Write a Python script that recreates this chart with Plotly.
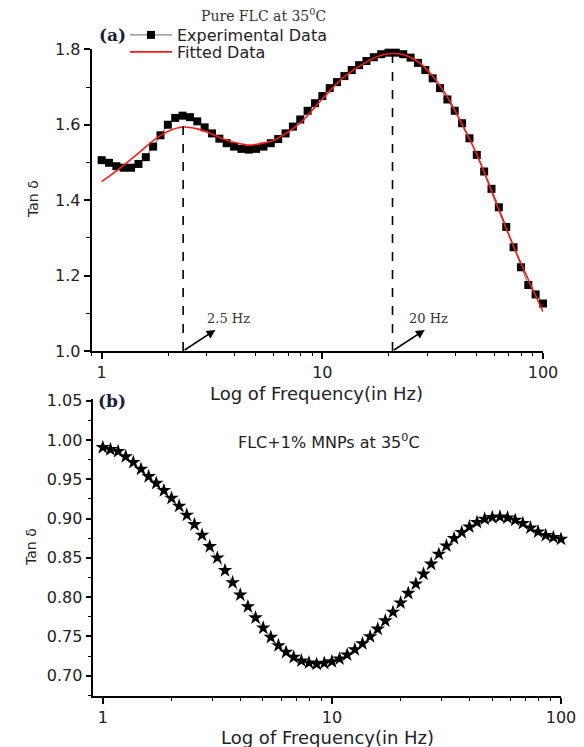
import math
import plotly.graph_objects as go

# ---------------- data ----------------
freq_hz = [1.000, 1.080, 1.166, 1.259, 1.359, 1.468, 1.585, 1.711, 1.848, 1.995,
           2.154, 2.326, 2.512, 2.712, 2.929, 3.162, 3.415, 3.687, 3.981, 4.299,
           4.642, 5.012, 5.412, 5.843, 6.310, 6.813, 7.356, 7.943, 8.577, 9.261,
           10.00, 10.80, 11.66, 12.59, 13.59, 14.68, 15.85, 17.11, 18.48, 19.95,
           21.54, 23.26, 25.12, 27.12, 29.29, 31.62, 34.15, 36.87, 39.81, 42.99,
           46.42, 50.12, 54.12, 58.43, 63.10, 68.13, 73.56, 79.43, 85.77, 92.61,
           100.0]

tan_pure = [1.506, 1.499, 1.490, 1.486, 1.486, 1.496, 1.514, 1.542, 1.572, 1.600,
            1.618, 1.624, 1.620, 1.609, 1.593, 1.577, 1.563, 1.551, 1.542, 1.536,
            1.534, 1.536, 1.542, 1.551, 1.562, 1.577, 1.595, 1.614, 1.637, 1.657,
            1.676, 1.697, 1.713, 1.729, 1.745, 1.758, 1.769, 1.779, 1.787, 1.791,
            1.791, 1.787, 1.778, 1.764, 1.745, 1.723, 1.697, 1.667, 1.637, 1.604,
            1.564, 1.520, 1.476, 1.430, 1.381, 1.329, 1.275, 1.222, 1.175, 1.150,
            1.126]

fit_freq = [1.0, 1.25, 1.465, 1.713, 1.99, 2.33, 2.71, 3.16, 3.68, 4.29, 4.65, 5.04,
            5.86, 6.42, 7.91, 9.95, 12.5, 15.8, 18.5, 20.9, 23.2, 27.2, 31.6, 36.9,
            43.1, 49.9, 62.3, 73.1, 100.0]
fit_tan = [1.449, 1.491, 1.524, 1.558, 1.582, 1.594, 1.589, 1.575, 1.559, 1.549, 1.546,
           1.548, 1.556, 1.567, 1.604, 1.667, 1.726, 1.766, 1.784, 1.789, 1.786, 1.767,
           1.729, 1.673, 1.599, 1.524, 1.382, 1.281, 1.104]

tan_mnp = [0.9906, 0.9880, 0.9855, 0.9790, 0.9715, 0.9630, 0.9536, 0.9450, 0.9358, 0.9260,
           0.9160, 0.9045, 0.8925, 0.8790, 0.8645, 0.8500, 0.8340, 0.8186, 0.8030, 0.7880,
           0.7738, 0.7608, 0.7490, 0.7384, 0.7300, 0.7236, 0.7190, 0.7165, 0.7148, 0.7160,
           0.7181, 0.7215, 0.7266, 0.7333, 0.7409, 0.7498, 0.7595, 0.7700, 0.7810, 0.7928,
           0.8050, 0.8169, 0.8295, 0.8422, 0.8548, 0.8654, 0.8748, 0.8824, 0.8896, 0.8952,
           0.8994, 0.9015, 0.9023, 0.9010, 0.8981, 0.8939, 0.8883, 0.8832, 0.8786, 0.8761,
           0.8739]

peak_freqs = [2.34, 20.8]
peak_tops = [1.624, 1.790]
peak_labels = ["2.5 Hz", "20 Hz"]

x_ticks = [1, 10, 100]
x_ticktext = ["1", "10", "100"]

# ---------------- figure ----------------
W, H = 584, 747
SANS = "DejaVu Sans"
SERIF = "DejaVu Serif"
TXT = "#222222"

def px(x):
    return x / W

def py(y):
    return 1 - y / H

fig = go.Figure()

# panel (a)
fig.add_trace(go.Scatter(
    x=freq_hz, y=tan_pure, mode="lines+markers", name="Experimental Data",
    line=dict(color="#666666", width=1),
    marker=dict(symbol="square", size=8, color="black"),
    xaxis="x", yaxis="y", cliponaxis=False, legend="legend"))
fig.add_trace(go.Scatter(
    x=fit_freq, y=fit_tan, mode="lines", name="Fitted Data",
    line=dict(color="#ff1a1a", width=1.6, shape="spline"),
    xaxis="x", yaxis="y", legend="legend2"))
for f, top in zip(peak_freqs, peak_tops):
    fig.add_trace(go.Scatter(
        x=[f, f], y=[1.0, top], mode="lines", showlegend=False,
        line=dict(color="black", width=1.6, dash="dash"),
        xaxis="x", yaxis="y"))

# panel (b)
fig.add_trace(go.Scatter(
    x=freq_hz, y=tan_mnp, mode="lines+markers", showlegend=False,
    line=dict(color="#777777", width=1, dash="dot"),
    marker=dict(symbol="star", size=11, color="black"),
    xaxis="x2", yaxis="y2", cliponaxis=False))

axis_common = dict(showline=True, linecolor="black", linewidth=1.5,
                   ticks="outside", ticklen=6, tickwidth=1.5, tickcolor="black",
                   showgrid=False, zeroline=False,
                   tickfont=dict(family=SANS, size=16, color=TXT))
minor_common = dict(ticks="outside", ticklen=3.5, tickwidth=1.2, tickcolor="black")

legend_common = dict(xanchor="left", yanchor="middle", bgcolor="rgba(0,0,0,0)",
                     itemwidth=42, font=dict(family=SANS, size=16, color=TXT),
                     borderwidth=0)

fig.update_layout(
    width=W, height=H,
    margin=dict(l=0, r=0, t=0, b=0, autoexpand=False),
    paper_bgcolor="white", plot_bgcolor="white",
    showlegend=True,
    legend=dict(x=px(125), y=py(35), **legend_common),
    legend2=dict(x=px(125), y=py(52), **legend_common),
    xaxis=dict(type="log", range=[-0.046, 2.0], domain=[px(91.5), px(543)],
               anchor="y", tickvals=x_ticks, ticktext=x_ticktext,
               minor=dict(dtick="D1", **minor_common), **axis_common),
    yaxis=dict(range=[1.0, 1.8], domain=[py(351), py(49.3)], anchor="x",
               tick0=1.0, dtick=0.2, tickformat=".1f",
               minor=dict(dtick=0.1, **minor_common), **axis_common),
    xaxis2=dict(type="log", range=[-0.0415, 2.0], domain=[px(93.3), px(561)],
                anchor="y2", tickvals=x_ticks, ticktext=x_ticktext,
                minor=dict(dtick="D1", **minor_common), **axis_common),
    yaxis2=dict(range=[0.6742, 1.0522], domain=[py(696), py(399)], anchor="x2",
                tick0=0.70, dtick=0.05, tickformat=".2f",
                minor=dict(dtick=0.025, **minor_common), **axis_common),
)

ann = []
def text(x, y, s, size, family=SANS, color=TXT, angle=0):
    ann.append(dict(x=px(x), y=py(y), xref="paper", yref="paper", text=s,
                    showarrow=False, xanchor="center", yanchor="middle",
                    textangle=angle, font=dict(family=family, size=size, color=color)))

text(263, 15, "Pure FLC at 35<sup>0</sup>C", 14, SERIF, "#333333")
text(112, 35, "<b>(a)</b>", 17, SERIF, "#1c1c3c")
text(316, 393, "Log of Frequency(in Hz)", 18)
text(33, 199, "Tan δ", 14, angle=-90)
text(112, 401, "<b>(b)</b>", 17, SERIF, "#1c1c3c")
text(329, 441, "FLC+1% MNPs at 35<sup>0</sup>C", 16)
text(327, 737, "Log of Frequency(in Hz)", 18)
text(31, 547, "Tan δ", 14, angle=-90)

label_px = [228, 428]
for f, lab, lx in zip(peak_freqs, peak_labels, label_px):
    # arrow from the foot of the dashed line up-right
    ann.append(dict(x=math.log10(f * 1.40), y=1.056, xref="x", yref="y",
                    ax=math.log10(f), ay=1.0, axref="x", ayref="y",
                    text="", showarrow=True, arrowhead=2, arrowsize=1.1,
                    arrowwidth=1.6, arrowcolor="black"))
    text(lx, 318, lab, 13, SERIF, "#333333")

fig.update_layout(annotations=ann)

fig.write_html("out.html", config={"displayModeBar": False},
               post_script="document.body.style.margin='0px';")
